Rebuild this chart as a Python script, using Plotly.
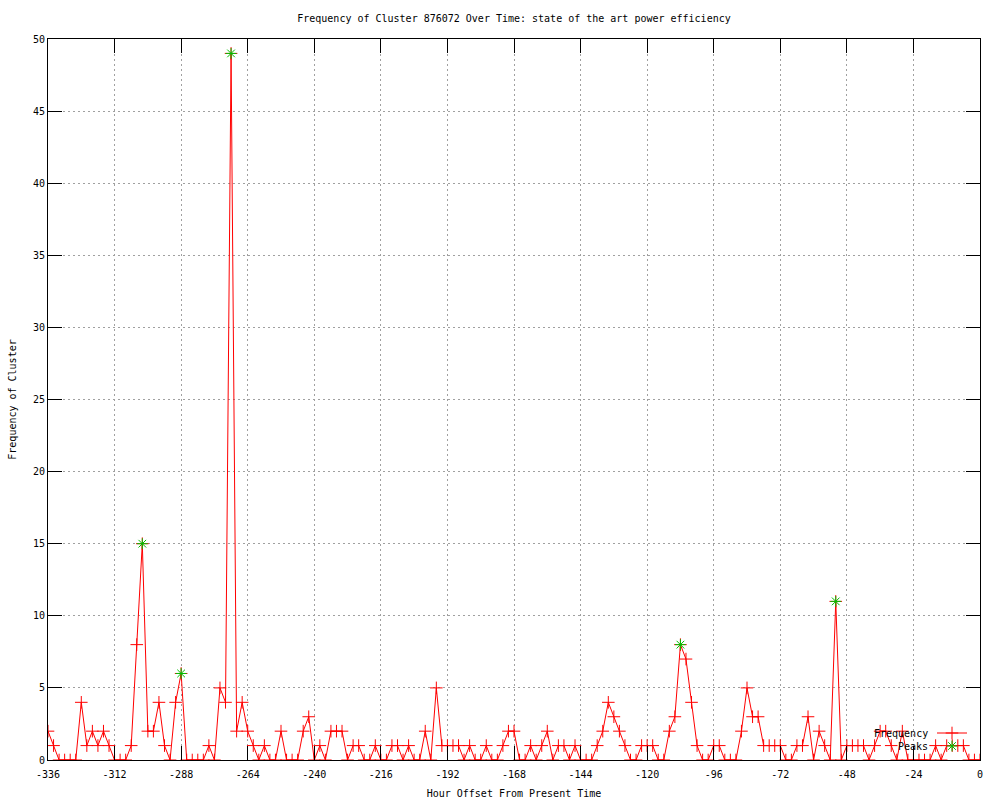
import plotly.graph_objects as go

# Hour offsets (every 2 hours from -336 to 0)
hours = list(range(-336, 1, 2))

# Frequency of cluster at each hour offset
frequency = [
    2, 1, 0, 0, 0, 0, 4, 1, 2, 1,
    2, 1, 0, 0, 0, 1, 8, 15, 2, 2,
    4, 1, 0, 4, 6, 0, 0, 0, 0, 1,
    0, 5, 4, 49, 2, 4, 2, 1, 0, 1,
    0, 0, 2, 0, 0, 0, 2, 3, 0, 1,
    0, 2, 2, 2, 0, 1, 1, 0, 0, 1,
    0, 0, 1, 1, 0, 1, 0, 0, 2, 0,
    5, 1, 1, 1, 1, 0, 1, 0, 0, 1,
    0, 0, 1, 2, 2, 0, 0, 1, 0, 1,
    2, 0, 1, 1, 0, 1, 0, 0, 0, 1,
    2, 4, 3, 2, 1, 0, 0, 1, 1, 1,
    0, 0, 2, 3, 8, 7, 4, 1, 0, 0,
    1, 1, 0, 0, 0, 2, 5, 3, 3, 1,
    1, 1, 1, 0, 0, 1, 1, 3, 0, 2,
    1, 0, 11, 0, 1, 1, 1, 1, 0, 1,
    2, 2, 1, 0, 2, 0, 0, 0, 0, 0,
    1, 0, 1, 1, 1, 1, 0, 0, 0,
]

# Detected peaks
peak_hours = [-302, -288, -270, -108, -52]
peak_values = [15, 6, 49, 8, 11]

# Axis ticks
x_tick_values = [-336, -312, -288, -264, -240, -216, -192, -168, -144, -120, -96, -72, -48, -24, 0]
x_tick_labels = ["-336", "-312", "-288", "-264", "-240", "-216", "-192", "-168",
                 "-144", "-120", "-96", "-72", "-48", "-24", "0"]
y_tick_values = [0, 5, 10, 15, 20, 25, 30, 35, 40, 45, 50]

FONT = "DejaVu Sans Mono"
RED = "#ff0000"
GREEN = "#00c000"

W, H = 1000, 800
ML, MR, MT, MB = 48, 20, 39, 40
PW, PH = W - ML - MR, H - MT - MB


def px_x(px):
    return (px - ML) / PW


def px_y(py):
    return (H - MB - py) / PH


fig = go.Figure()

fig.add_trace(go.Scatter(
    x=hours, y=frequency, name="Frequency", mode="lines+markers",
    line=dict(color=RED, width=1),
    marker=dict(symbol="cross-thin-open", size=9, color=RED, line=dict(color=RED, width=1)),
    legend="legend",
))
fig.add_trace(go.Scatter(
    x=peak_hours, y=peak_values, name="Peaks", mode="markers",
    marker=dict(symbol="asterisk-open", size=9, color=GREEN, line=dict(color=GREEN, width=1)),
    legend="legend2",
))

axis_common = dict(
    showline=True, linecolor="black", linewidth=1, mirror="ticks",
    ticks="inside", ticklen=14, tickcolor="black", tickwidth=1,
    showgrid=True, gridcolor="#a0a0a0", gridwidth=1, griddash="2px,3px",
    zeroline=False,
    tickfont=dict(family=FONT, size=10, color="black"),
)

fig.update_xaxes(
    range=[-336, 0], tickvals=x_tick_values, ticktext=x_tick_labels,
    ticklabelstandoff=5,
    title=dict(text="Hour Offset From Present Time", font=dict(family=FONT, size=10, color="black"), standoff=10),
    **axis_common,
)
fig.update_yaxes(
    range=[0, 50], tickvals=y_tick_values,
    title=dict(text="Frequency of Cluster", font=dict(family=FONT, size=10, color="black"), standoff=14),
    **axis_common,
)

legend_common = dict(
    bgcolor="rgba(0,0,0,0)", borderwidth=0,
    font=dict(family=FONT, size=1, color="rgba(0,0,0,0)"),
    xanchor="left", yanchor="middle", itemwidth=30,
)

fig.update_layout(
    width=W, height=H,
    margin=dict(l=ML, r=MR, t=MT, b=MB, autoexpand=False),
    paper_bgcolor="white", plot_bgcolor="white",
    font=dict(family=FONT, size=10, color="black"),
    title=dict(text="Frequency of Cluster 876072 Over Time: state of the art power efficiency",
               x=0.5, xref="paper", y=1 - 18 / H, yref="container", yanchor="middle",
               font=dict(family=FONT, size=10, color="black")),
    showlegend=True,
    legend=dict(x=px_x(932), y=px_y(733), **legend_common),
    legend2=dict(x=px_x(932), y=px_y(746), **legend_common),
    annotations=[
        dict(text="Frequency", x=px_x(930), y=px_y(733), xref="paper", yref="paper",
             xanchor="right", yanchor="middle", showarrow=False,
             font=dict(family=FONT, size=10, color="black")),
        dict(text="Peaks", x=px_x(930), y=px_y(746), xref="paper", yref="paper",
             xanchor="right", yanchor="middle", showarrow=False,
             font=dict(family=FONT, size=10, color="black")),
    ],
)

fig.write_html(
    "out.html",
    config={"displayModeBar": False},
    post_script="document.body.style.margin='0';document.body.style.overflow='hidden';",
)
